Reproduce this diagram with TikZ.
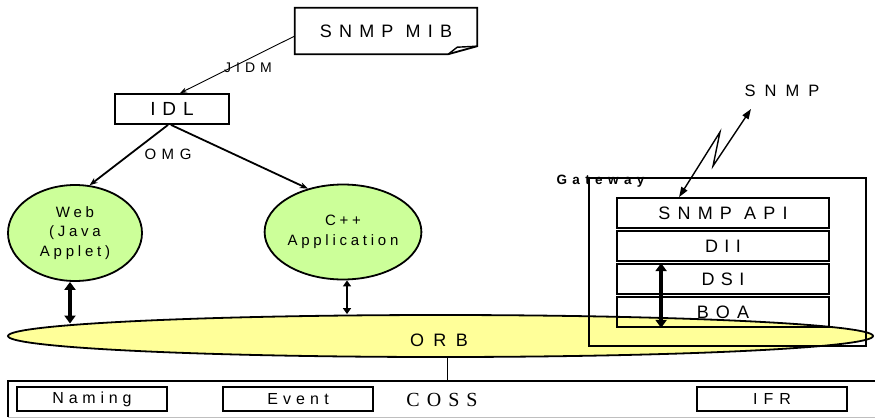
\documentclass[tikz,border=0pt]{standalone}
\usepackage{fontspec}
\setmainfont{Liberation Sans}
\newfontfamily\cossfont{Liberation Serif}
\usetikzlibrary{arrows.meta,shapes.geometric,calc}
\definecolor{appgreen}{HTML}{CCFF99}
\definecolor{orbyellow}{HTML}{FFFF99}
\newcommand\tracked[2]{{\addfontfeature{LetterSpace=#1}#2}}

\begin{document}
\begin{tikzpicture}[x=1pt,y=-1pt,
  frame/.style={draw, line width=1.8pt, inner sep=0pt},
  app/.style={ellipse, draw, line width=1.8pt, fill=appgreen, inner sep=0pt, align=center,
    font=\fontsize{15}{19.5}\selectfont\addfontfeature{LetterSpace=25}},
  bigtext/.style={font=\fontsize{18}{21}\selectfont},
  service/.style={frame, minimum width=150pt, minimum height=24pt,
    font=\fontsize{16}{18}\selectfont},
  layer/.style={frame, minimum width=212pt, minimum height=30pt,
    font=\fontsize{18}{21}\selectfont},
  link/.style={line width=0.9pt, -{Stealth[length=7pt,width=5pt]}},
  conn/.style={line width=1.8pt, -{Stealth[length=8pt,width=6pt]}},
  bus/.style={line width=3.5pt, {Triangle[length=8pt,width=11pt]}-{Triangle[length=8pt,width=11pt]}},
  buslight/.style={line width=2.2pt, {Triangle[length=6pt,width=8pt]}-{Triangle[length=6pt,width=8pt]}},
  bolt/.style={line width=1.4pt, {Triangle[length=10pt,width=7pt]}-{Triangle[length=10pt,width=7pt]}},
]
\useasboundingbox (0,0) rectangle (875,418);

% MIB note with a folded corner
\node[inner sep=0pt, minimum width=182pt, minimum height=46pt, bigtext] (mib) at (386,31)
  {\tracked{40}{SNMP MIB}};
\draw[line width=1.8pt] (mib.north west) -- (mib.north east) -- ($(mib.south east)+(0,-8)$)
  -- ($(mib.south east)+(-29,0)$) -- (mib.south west) -- cycle;
\draw[line width=1.4pt] ($(mib.south east)+(-29,0)$) -- ($(mib.south east)+(-20,-7)$)
  -- ($(mib.south east)+(0,-8)$);

% IDL
\node[frame, minimum width=114pt, minimum height=30pt, font=\fontsize{19}{22}\selectfont]
  (idl) at (172,109) {\tracked{36}{IDL}};
\draw[link] ($(mib.west)+(0,5)$) -- ([xshift=8pt]idl.north);
\node[font=\fontsize{14}{16}\selectfont] (jidm) at (248,68) {\tracked{36}{JIDM}};

% applications
\node[app, minimum width=134pt, minimum height=96pt] (web) at (75,233) {Web\\(Java\\Applet)};
\node[app, minimum width=132pt, minimum height=95pt] (cpp) at (343,232) {C++\\Application};
\draw[conn] ([xshift=-4pt]idl.south) -- (web.73);
\draw[conn] ([xshift=-1pt]idl.south) -- (cpp.129);
\node[font=\fontsize{15}{17}\selectfont] (omg) at (168,154) {\tracked{37}{OMG}};

% ORB bus
\node[ellipse, draw, line width=1.8pt, fill=orbyellow, inner sep=0pt,
  minimum width=865pt, minimum height=42pt] (orb) at (440.5,336) {};
\node[bigtext] (orbtext) at (439,340) {\tracked{52}{ORB}};
\draw[bus] ([xshift=-5pt]web.south) -- ([xshift=-5pt]web.south |- orb.178.2);
\draw[buslight] ([xshift=4pt]cpp.south) -- ([xshift=4pt]cpp.south |- orb.north);

% gateway
\node[frame, minimum width=277pt, minimum height=168pt] (gw) at (727.5,262) {};
\node[anchor=base west, font=\bfseries\fontsize{13.5}{15}\selectfont] (gwlabel) at (553,184)
  {\tracked{40}{Gateway}};
\node[layer] (api) at (723,213) {\tracked{40}{SNMP API}};
\node[layer] (dii) at (723,246) {\tracked{35}{DII}};
\node[layer] (dsi) at (723,279) {\tracked{35}{DSI}};
\node[layer] (boa) at (723,312) {\tracked{40}{BOA}};
\draw[bus] ([xshift=45pt]dsi.north west) -- ([xshift=45pt]boa.south west);

% SNMP link
\node[font=\fontsize{16.5}{18}\selectfont] (snmp) at (782,91) {\tracked{55}{SNMP}};
\coordinate (boltA) at (720,132);
\coordinate (boltB) at (713,166);
\coordinate (snmpend) at (751,109);
\draw[bolt] ([xshift=63pt]api.north west) -- (boltA) -- (boltB) -- (snmpend);

% common object services
\node[inner sep=0pt, minimum width=867pt, minimum height=36pt] (cossframe) at (441.5,399) {};
\draw[line width=1.8pt] (cossframe.north east) -- (cossframe.north west) -- (cossframe.south west);
\draw[line width=1.2pt, black!25] (cossframe.south west) -- (cossframe.south east);
\draw[line width=1.8pt] ([xshift=7pt]orb.south) -- ([xshift=7pt]orb.south |- cossframe.north);
\node[service] (naming) at (92,399) {\tracked{30}{Naming}};
\node[service] (event) at (298,399) {\tracked{32}{Event}};
\node[service] (ifr) at (772,399) {\tracked{38}{IFR}};
\node[font=\cossfont\fontsize{20}{22}\selectfont] (coss) at (442,400) {\tracked{35}{COSS}};
\end{tikzpicture}
\end{document}
